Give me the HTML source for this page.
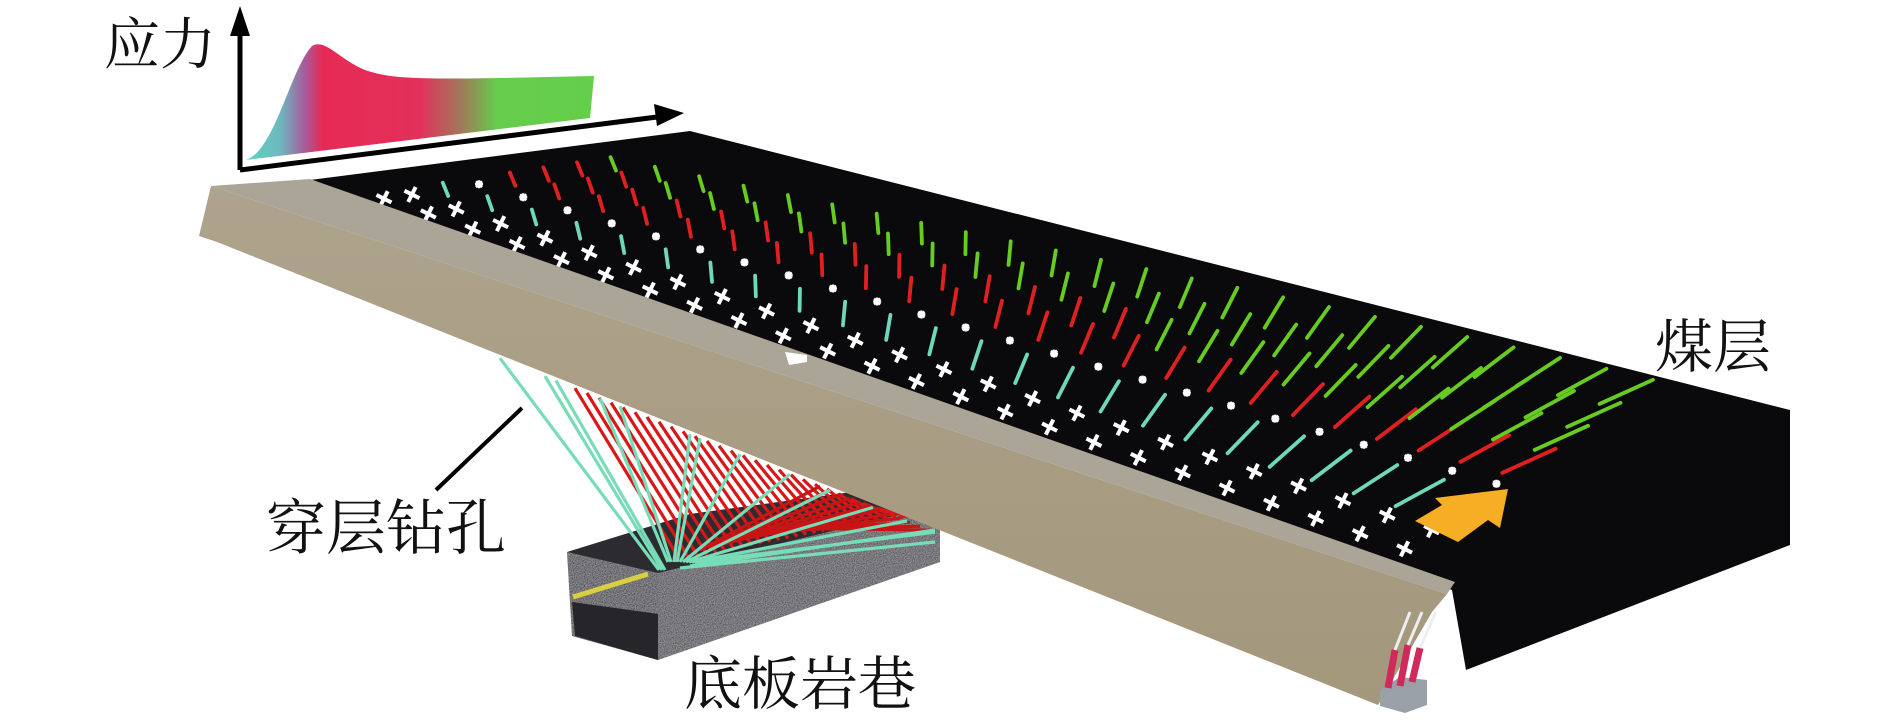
<!DOCTYPE html>
<html><head><meta charset="utf-8"><style>
html,body{margin:0;padding:0;background:#fff}
svg{display:block}
text{font-family:"Liberation Serif","Noto Serif CJK SC","Noto Sans CJK SC",serif;fill:#111}
</style></head><body>
<svg id="s" width="1890" height="721" viewBox="0 0 1890 721" xmlns="http://www.w3.org/2000/svg">
<defs>
<linearGradient id="st" x1="246" y1="0" x2="594" y2="0" gradientUnits="userSpaceOnUse">
<stop offset="0" stop-color="#5fd3c0"/><stop offset="0.1" stop-color="#6fb7c0"/>
<stop offset="0.17" stop-color="#a85a9a"/><stop offset="0.22" stop-color="#e62a55"/>
<stop offset="0.5" stop-color="#e2305a"/><stop offset="0.62" stop-color="#a07a5a"/>
<stop offset="0.72" stop-color="#66cc4c"/><stop offset="1" stop-color="#64cf4a"/>
</linearGradient>
<linearGradient id="bm" x1="0" y1="0" x2="0" y2="1">
<stop offset="0" stop-color="#aea38c"/><stop offset="1" stop-color="#a3977c"/>
</linearGradient>
<filter id="nz" x="0" y="0" width="1" height="1">
<feTurbulence type="fractalNoise" baseFrequency="0.9" numOctaves="2" result="t"/>
<feColorMatrix in="t" type="matrix" values="0 0 0 0 0.45  0 0 0 0 0.45  0 0 0 0 0.48  0 0 0 1.2 -0.3" result="c"/>
<feComposite in="c" in2="SourceGraphic" operator="in" result="m"/>
<feMerge><feMergeNode in="SourceGraphic"/><feMergeNode in="m"/></feMerge>
</filter>
</defs>
<!-- stress chart -->
<path d="M246,160 C275,150 290,70 312,46 C325,38 340,60 365,70 C395,80 420,80 594,76 L590,118 Z" fill="url(#st)"/>
<line x1="240" y1="170" x2="240" y2="30" stroke="#000" stroke-width="5"/>
<polygon points="240,6 230,36 250,36" fill="#000"/>
<line x1="240" y1="170" x2="665" y2="116" stroke="#000" stroke-width="5"/>
<polygon points="684,113 654,104 657,126" fill="#000"/>
<text x="104" y="64" font-size="56">应力</text>

<!-- tunnel -->
<polygon points="567,552 690,514 940,480 940,505 658,575" fill="#2c2c30"/>
<g filter="url(#nz)">
<polygon points="658,573 940,505 940,562 658,660" fill="#525256"/>
<polygon points="567,552 658,573 658,660 572,636" fill="#4a4a4f"/>
</g>
<polygon points="572,602 658,614 658,660 575,636" fill="#26262a"/>
<line x1="573" y1="597" x2="648" y2="574" stroke="#d8d040" stroke-width="5"/>
<!-- drill lines -->
<g stroke-width="3.2" fill="none" id="drills"></g>

<!-- coal seam -->
<polygon points="310,180 690,131 1790,410 1790,545 1466,670 1452,590" fill="#0a0a0c"/>
<g id="marks"></g>

<!-- beam -->
<polygon points="211,186 1447,594 1432,612 1378,705 217,242 199,236" fill="url(#bm)"/>
<polygon points="211,186 310,179 1455,582 1447,594" fill="#aaa597"/>
<polygon points="785,352 807,355 807,362 789,365" fill="#fff"/>
<!-- end box -->
<polygon points="1380,690 1400,677 1427,680 1427,705 1405,713 1380,706" fill="#9aa0a8"/>
<g stroke="#d02a5a" stroke-width="7"><line x1="1388" y1="688" x2="1395" y2="650"/><line x1="1400" y1="686" x2="1408" y2="645"/><line x1="1412" y1="682" x2="1420" y2="648"/></g>
<g stroke="#eee" stroke-width="3"><line x1="1395" y1="650" x2="1410" y2="612"/><line x1="1408" y1="645" x2="1422" y2="612"/><line x1="1420" y1="648" x2="1436" y2="612"/></g>
<!-- orange arrow -->
<polygon points="1508,489 1435,498 1442,505 1415,521 1458,542 1488,520 1500,528" fill="#f6ae24"/>
<line x1="522" y1="408" x2="436" y2="490" stroke="#000" stroke-width="4"/>
<text x="266" y="549" font-size="60">穿层钻孔</text>
<text x="684" y="704" font-size="58">底板岩巷</text>
<text x="1655" y="367" font-size="58">煤层</text>
</svg>
<script>
var NS="http://www.w3.org/2000/svg";
function el(p,t,a){var e=document.createElementNS(NS,t);for(var k in a)e.setAttribute(k,a[k]);p.appendChild(e);return e;}
var m=document.getElementById('marks');
var B=function(u){return [320+1110*u,186+392*u];};
var F=function(u){return [600+1100*u,150+230*u];};
var vs=[0.07,0.17,0.29,0.41,0.53,0.65,0.77,0.89];
for(var i=0;i<24;i++){var u=0.04+i*0.04;
 var b=B(u),f=F(u);
 var th=(u<0.35?(65+25*u/0.35):(90+70*(u-0.35)/0.65))*Math.PI/180;
 var L=14+40*u*u+8*u;
 for(var j=0;j<vs.length;j++){var v=vs[j];
  var x=b[0]+(f[0]-b[0])*v, y=b[1]+(f[1]-b[1])*v;
  if(x<330||y<150) continue;
  var g=0.8-0.25*u;
  var c;
  if(v<0.2){var s=7.5;el(m,'path',{d:'M'+(x-s)+','+(y-s*0.5)+'L'+(x+s)+','+(y+s*0.5)+'M'+(x-s*0.5)+','+(y+s)+'L'+(x+s*0.5)+','+(y-s),stroke:'#fff','stroke-width':4});continue;}
  if(v<0.3)c='#6fd8b8';else if(v<0.45){el(m,'path',{d:'M'+(x-4)+','+y+'L'+(x+4)+','+y+'M'+x+','+(y-4)+'L'+x+','+(y+4)+'M'+(x-3)+','+(y-3)+'L'+(x+3)+','+(y+3)+'M'+(x-3)+','+(y+3)+'L'+(x+3)+','+(y-3),stroke:'#fff','stroke-width':2.5});continue;}
  else if(v<g)c='#e02020';else c='#66cc22';
  var dx=Math.cos(th)*L/2,dy=Math.sin(th)*L/2;
  el(m,'line',{x1:x-dx,y1:y-dy,x2:x+dx,y2:y+dy,stroke:c,'stroke-width':3.8,'stroke-linecap':'round'});
 }}
var d=document.getElementById('drills');
function by(x){return 241+0.4*(x-217);}
for(var k=0;k<28;k++){var sx=680+k*9, sy=560-k*1.8;var ex=575+k*12;
 el(d,'line',{x1:sx,y1:sy,x2:ex,y2:by(ex)+4,stroke:'#d81818'});}
for(var k=0;k<12;k++){var sx=700+k*8, sy=550-k*2;var ex=820+k*10;
 el(d,'line',{x1:sx,y1:sy,x2:ex,y2:by(ex)+4,stroke:'#c81414'});}
var o=[673,562];
var cy=[[500,360],[545,378],[556,382],[600,400],[620,407],[690,435],[700,440],[740,455],[790,475],[830,492],[873,510],[907,525],[935,536]];
cy.forEach(function(p,k){el(d,'line',{x1:o[0]-14+k*3,y1:o[1]+(k<3?8:0),x2:p[0],y2:by(p[0])+4,stroke:'#78dcb8'});});
el(d,'line',{x1:680,y1:568,x2:935,y2:542,stroke:'#78dcb8'});
el(d,'line',{x1:690,y1:566,x2:935,y2:530,stroke:'#78dcb8'});
</script>
</body></html>
